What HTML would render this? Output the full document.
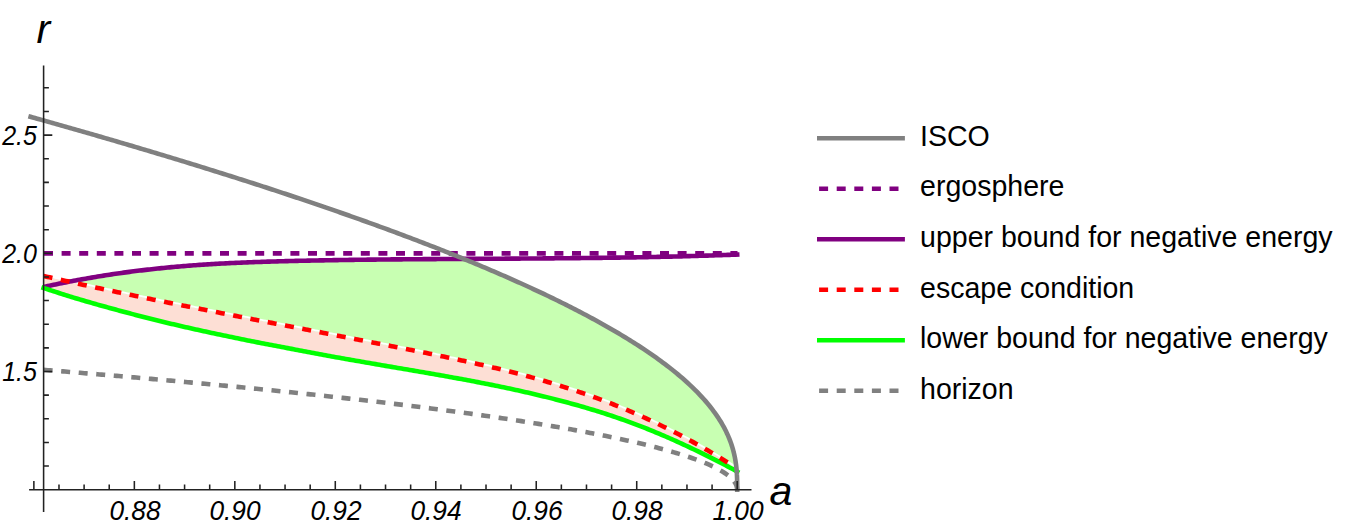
<!DOCTYPE html>
<html><head><meta charset="utf-8"><title>plot</title>
<style>
html,body{margin:0;padding:0;background:#fff;}
body{width:1345px;height:529px;position:relative;overflow:hidden;font-family:"Liberation Sans",sans-serif;color:#000;}
.t{position:absolute;white-space:nowrap;line-height:1;}
</style></head><body>
<svg width="1345" height="529" viewBox="0 0 1345 529" style="position:absolute;left:0;top:0">
<rect width="1345" height="529" fill="#fff"/>
<path d="M43.60 275.98 L45.60 276.43 L47.60 276.89 L49.60 277.34 L51.60 277.79 L53.60 278.24 L55.60 278.69 L57.60 279.14 L59.60 279.59 L61.60 280.03 L63.60 280.48 L65.60 280.93 L67.60 281.37 L69.60 281.81 L71.60 282.26 L73.60 282.70 L75.60 283.14 L77.60 283.58 L79.60 284.02 L81.60 284.46 L83.60 284.89 L85.60 285.33 L87.60 285.77 L89.60 286.20 L91.60 286.63 L93.60 287.07 L95.60 287.50 L97.60 287.93 L99.60 288.36 L101.60 288.79 L103.60 289.22 L105.60 289.65 L107.60 290.07 L109.60 290.50 L111.60 290.93 L113.60 291.35 L115.60 291.77 L117.60 292.19 L119.60 292.62 L121.60 293.04 L123.60 293.45 L125.60 293.87 L127.60 294.29 L129.60 294.70 L131.60 295.12 L133.60 295.53 L135.60 295.95 L137.60 296.36 L139.60 296.77 L141.60 297.18 L143.60 297.59 L145.60 298.00 L147.60 298.41 L149.60 298.82 L151.60 299.23 L153.60 299.64 L155.60 300.04 L157.60 300.45 L159.60 300.85 L161.60 301.26 L163.60 301.66 L165.60 302.06 L167.60 302.47 L169.60 302.87 L171.60 303.27 L173.60 303.67 L175.60 304.07 L177.60 304.47 L179.60 304.87 L181.60 305.27 L183.60 305.66 L185.60 306.06 L187.60 306.46 L189.60 306.85 L191.60 307.25 L193.60 307.64 L195.60 308.04 L197.60 308.43 L199.60 308.83 L201.60 309.22 L203.60 309.61 L205.60 310.00 L207.60 310.40 L209.60 310.79 L211.60 311.18 L213.60 311.57 L215.60 311.96 L217.60 312.36 L219.60 312.75 L221.60 313.14 L223.60 313.53 L225.60 313.92 L227.60 314.32 L229.60 314.71 L231.60 315.10 L233.60 315.49 L235.60 315.88 L237.60 316.27 L239.60 316.67 L241.60 317.06 L243.60 317.45 L245.60 317.84 L247.60 318.23 L249.60 318.62 L251.60 319.01 L253.60 319.40 L255.60 319.78 L257.60 320.17 L259.60 320.56 L261.60 320.95 L263.60 321.33 L265.60 321.72 L267.60 322.11 L269.60 322.49 L271.60 322.88 L273.60 323.26 L275.60 323.65 L277.60 324.03 L279.60 324.42 L281.60 324.80 L283.60 325.19 L285.60 325.57 L287.60 325.95 L289.60 326.34 L291.60 326.72 L293.60 327.10 L295.60 327.48 L297.60 327.87 L299.60 328.25 L301.60 328.64 L303.60 329.02 L305.60 329.41 L307.60 329.79 L309.60 330.18 L311.60 330.56 L313.60 330.95 L315.60 331.34 L317.60 331.73 L319.60 332.12 L321.60 332.51 L323.60 332.90 L325.60 333.29 L327.60 333.68 L329.60 334.07 L331.60 334.46 L333.60 334.86 L335.60 335.25 L337.60 335.64 L339.60 336.03 L341.60 336.42 L343.60 336.81 L345.60 337.20 L347.60 337.59 L349.60 337.98 L351.60 338.37 L353.60 338.76 L355.60 339.15 L357.60 339.54 L359.60 339.93 L361.60 340.32 L363.60 340.71 L365.60 341.10 L367.60 341.49 L369.60 341.88 L371.60 342.27 L373.60 342.66 L375.60 343.05 L377.60 343.44 L379.60 343.83 L381.60 344.22 L383.60 344.60 L385.60 344.99 L387.60 345.38 L389.60 345.77 L391.60 346.16 L393.60 346.55 L395.60 346.94 L397.60 347.33 L399.60 347.71 L401.60 348.10 L403.60 348.49 L405.60 348.89 L407.60 349.28 L409.60 349.67 L411.60 350.06 L413.60 350.46 L415.60 350.85 L417.60 351.25 L419.60 351.65 L421.60 352.05 L423.60 352.45 L425.60 352.85 L427.60 353.26 L429.60 353.67 L431.60 354.07 L433.60 354.49 L435.60 354.90 L437.60 355.31 L439.60 355.73 L441.60 356.14 L443.60 356.56 L445.60 356.99 L447.60 357.41 L449.60 357.83 L451.60 358.26 L453.60 358.69 L455.60 359.12 L457.60 359.55 L459.60 359.98 L461.60 360.41 L463.60 360.85 L465.60 361.29 L467.60 361.72 L469.60 362.16 L471.60 362.61 L473.60 363.05 L475.60 363.50 L477.60 363.94 L479.60 364.39 L481.60 364.85 L483.60 365.31 L485.60 365.76 L487.60 366.23 L489.60 366.69 L491.60 367.16 L493.60 367.64 L495.60 368.11 L497.60 368.59 L499.60 369.07 L501.60 369.56 L503.60 370.05 L505.60 370.55 L507.60 371.05 L509.60 371.55 L511.60 372.05 L513.60 372.56 L515.60 373.08 L517.60 373.60 L519.60 374.12 L521.60 374.65 L523.60 375.18 L525.60 375.71 L527.60 376.26 L529.60 376.80 L531.60 377.35 L533.60 377.90 L535.60 378.46 L537.60 379.03 L539.60 379.60 L541.60 380.17 L543.60 380.75 L545.60 381.33 L547.60 381.92 L549.60 382.51 L551.60 383.11 L553.60 383.72 L555.60 384.33 L557.60 384.94 L559.60 385.56 L561.60 386.19 L563.60 386.82 L565.60 387.45 L567.60 388.10 L569.60 388.74 L571.60 389.40 L573.60 390.06 L575.60 390.72 L577.60 391.39 L579.60 392.07 L581.60 392.75 L583.60 393.44 L585.60 394.13 L587.60 394.83 L589.60 395.53 L591.60 396.25 L593.60 396.96 L595.60 397.69 L597.60 398.42 L599.60 399.16 L601.60 399.90 L603.60 400.65 L605.60 401.41 L607.60 402.17 L609.60 402.94 L611.60 403.72 L613.60 404.51 L615.60 405.30 L617.60 406.10 L619.60 406.91 L621.60 407.73 L623.60 408.55 L625.60 409.38 L627.60 410.22 L629.60 411.07 L631.60 411.93 L633.60 412.79 L635.60 413.66 L637.60 414.54 L639.60 415.43 L641.60 416.32 L643.60 417.23 L645.60 418.14 L647.60 419.05 L649.60 419.98 L651.60 420.91 L653.60 421.86 L655.60 422.81 L657.60 423.76 L659.60 424.73 L661.60 425.70 L663.60 426.69 L665.60 427.67 L667.60 428.67 L669.60 429.68 L671.60 430.69 L673.60 431.71 L675.60 432.74 L677.60 433.78 L679.60 434.82 L681.60 435.88 L683.60 436.94 L685.60 438.01 L687.60 439.08 L689.60 440.17 L691.60 441.26 L693.60 442.37 L695.60 443.48 L697.60 444.60 L699.60 445.73 L701.60 446.87 L703.60 448.01 L705.60 449.17 L707.60 450.34 L709.60 451.52 L711.60 452.70 L713.60 453.90 L715.60 455.10 L717.60 456.32 L719.60 457.55 L721.60 458.79 L723.60 460.03 L725.60 461.29 L727.60 462.56 L729.60 463.84 L731.60 465.13 L733.60 466.43 L735.60 467.75 L737.20 468.81 L737.20 471.55 L735.60 470.67 L733.60 469.59 L731.60 468.51 L729.60 467.44 L727.60 466.38 L725.60 465.32 L723.60 464.27 L721.60 463.22 L719.60 462.19 L717.60 461.15 L715.60 460.13 L713.60 459.11 L711.60 458.09 L709.60 457.09 L707.60 456.09 L705.60 455.09 L703.60 454.10 L701.60 453.12 L699.60 452.15 L697.60 451.18 L695.60 450.21 L693.60 449.26 L691.60 448.31 L689.60 447.36 L687.60 446.42 L685.60 445.49 L683.60 444.57 L681.60 443.65 L679.60 442.73 L677.60 441.82 L675.60 440.92 L673.60 440.02 L671.60 439.13 L669.60 438.25 L667.60 437.37 L665.60 436.50 L663.60 435.64 L661.60 434.78 L659.60 433.93 L657.60 433.09 L655.60 432.26 L653.60 431.43 L651.60 430.61 L649.60 429.80 L647.60 429.00 L645.60 428.20 L643.60 427.41 L641.60 426.63 L639.60 425.85 L637.60 425.08 L635.60 424.32 L633.60 423.57 L631.60 422.82 L629.60 422.09 L627.60 421.36 L625.60 420.63 L623.60 419.92 L621.60 419.21 L619.60 418.51 L617.60 417.81 L615.60 417.13 L613.60 416.45 L611.60 415.78 L609.60 415.12 L607.60 414.46 L605.60 413.81 L603.60 413.16 L601.60 412.53 L599.60 411.89 L597.60 411.27 L595.60 410.65 L593.60 410.04 L591.60 409.43 L589.60 408.83 L587.60 408.23 L585.60 407.64 L583.60 407.06 L581.60 406.48 L579.60 405.90 L577.60 405.33 L575.60 404.77 L573.60 404.21 L571.60 403.66 L569.60 403.11 L567.60 402.56 L565.60 402.02 L563.60 401.49 L561.60 400.96 L559.60 400.44 L557.60 399.92 L555.60 399.40 L553.60 398.89 L551.60 398.38 L549.60 397.88 L547.60 397.38 L545.60 396.89 L543.60 396.40 L541.60 395.91 L539.60 395.43 L537.60 394.95 L535.60 394.47 L533.60 394.00 L531.60 393.53 L529.60 393.07 L527.60 392.61 L525.60 392.15 L523.60 391.70 L521.60 391.25 L519.60 390.80 L517.60 390.36 L515.60 389.92 L513.60 389.48 L511.60 389.05 L509.60 388.62 L507.60 388.19 L505.60 387.77 L503.60 387.35 L501.60 386.93 L499.60 386.51 L497.60 386.10 L495.60 385.69 L493.60 385.29 L491.60 384.88 L489.60 384.48 L487.60 384.08 L485.60 383.69 L483.60 383.29 L481.60 382.90 L479.60 382.51 L477.60 382.13 L475.60 381.74 L473.60 381.36 L471.60 380.98 L469.60 380.60 L467.60 380.23 L465.60 379.85 L463.60 379.48 L461.60 379.11 L459.60 378.74 L457.60 378.37 L455.60 378.01 L453.60 377.64 L451.60 377.28 L449.60 376.92 L447.60 376.56 L445.60 376.20 L443.60 375.84 L441.60 375.49 L439.60 375.13 L437.60 374.78 L435.60 374.43 L433.60 374.08 L431.60 373.73 L429.60 373.38 L427.60 373.03 L425.60 372.68 L423.60 372.34 L421.60 371.99 L419.60 371.65 L417.60 371.31 L415.60 370.96 L413.60 370.62 L411.60 370.28 L409.60 369.94 L407.60 369.60 L405.60 369.26 L403.60 368.92 L401.60 368.58 L399.60 368.24 L397.60 367.90 L395.60 367.56 L393.60 367.22 L391.60 366.88 L389.60 366.54 L387.60 366.20 L385.60 365.86 L383.60 365.51 L381.60 365.17 L379.60 364.82 L377.60 364.48 L375.60 364.13 L373.60 363.79 L371.60 363.44 L369.60 363.09 L367.60 362.74 L365.60 362.40 L363.60 362.05 L361.60 361.70 L359.60 361.35 L357.60 361.01 L355.60 360.66 L353.60 360.31 L351.60 359.96 L349.60 359.61 L347.60 359.26 L345.60 358.91 L343.60 358.56 L341.60 358.20 L339.60 357.85 L337.60 357.49 L335.60 357.14 L333.60 356.78 L331.60 356.41 L329.60 356.05 L327.60 355.69 L325.60 355.32 L323.60 354.95 L321.60 354.58 L319.60 354.20 L317.60 353.83 L315.60 353.45 L313.60 353.07 L311.60 352.69 L309.60 352.31 L307.60 351.93 L305.60 351.55 L303.60 351.17 L301.60 350.79 L299.60 350.40 L297.60 350.02 L295.60 349.64 L293.60 349.26 L291.60 348.88 L289.60 348.50 L287.60 348.12 L285.60 347.74 L283.60 347.36 L281.60 346.98 L279.60 346.60 L277.60 346.22 L275.60 345.84 L273.60 345.46 L271.60 345.08 L269.60 344.70 L267.60 344.32 L265.60 343.93 L263.60 343.54 L261.60 343.16 L259.60 342.77 L257.60 342.38 L255.60 341.98 L253.60 341.59 L251.60 341.19 L249.60 340.79 L247.60 340.39 L245.60 339.99 L243.60 339.59 L241.60 339.18 L239.60 338.77 L237.60 338.36 L235.60 337.95 L233.60 337.54 L231.60 337.12 L229.60 336.71 L227.60 336.29 L225.60 335.87 L223.60 335.45 L221.60 335.03 L219.60 334.61 L217.60 334.18 L215.60 333.76 L213.60 333.33 L211.60 332.90 L209.60 332.48 L207.60 332.04 L205.60 331.61 L203.60 331.18 L201.60 330.74 L199.60 330.30 L197.60 329.86 L195.60 329.41 L193.60 328.97 L191.60 328.52 L189.60 328.07 L187.60 327.61 L185.60 327.16 L183.60 326.70 L181.60 326.24 L179.60 325.77 L177.60 325.31 L175.60 324.84 L173.60 324.36 L171.60 323.89 L169.60 323.41 L167.60 322.93 L165.60 322.45 L163.60 321.97 L161.60 321.48 L159.60 320.99 L157.60 320.50 L155.60 320.00 L153.60 319.50 L151.60 319.00 L149.60 318.50 L147.60 318.00 L145.60 317.49 L143.60 316.98 L141.60 316.47 L139.60 315.95 L137.60 315.43 L135.60 314.91 L133.60 314.39 L131.60 313.87 L129.60 313.34 L127.60 312.81 L125.60 312.28 L123.60 311.74 L121.60 311.21 L119.60 310.67 L117.60 310.13 L115.60 309.59 L113.60 309.04 L111.60 308.50 L109.60 307.95 L107.60 307.40 L105.60 306.84 L103.60 306.29 L101.60 305.73 L99.60 305.17 L97.60 304.61 L95.60 304.04 L93.60 303.47 L91.60 302.90 L89.60 302.33 L87.60 301.75 L85.60 301.17 L83.60 300.58 L81.60 300.00 L79.60 299.40 L77.60 298.81 L75.60 298.20 L73.60 297.60 L71.60 296.98 L69.60 296.37 L67.60 295.74 L65.60 295.12 L63.60 294.48 L61.60 293.85 L59.60 293.21 L57.60 292.56 L55.60 291.91 L53.60 291.26 L51.60 290.61 L49.60 289.95 L47.60 289.30 L45.60 288.64 L43.60 287.99Z" fill="#fddfd5"/>
<path d="M69.60 281.61 L71.60 281.23 L73.60 280.86 L75.60 280.48 L77.60 280.11 L79.60 279.74 L81.60 279.38 L83.60 279.02 L85.60 278.66 L87.60 278.31 L89.60 277.96 L91.60 277.61 L93.60 277.27 L95.60 276.93 L97.60 276.60 L99.60 276.27 L101.60 275.94 L103.60 275.62 L105.60 275.31 L107.60 274.99 L109.60 274.69 L111.60 274.38 L113.60 274.08 L115.60 273.79 L117.60 273.50 L119.60 273.21 L121.60 272.93 L123.60 272.65 L125.60 272.38 L127.60 272.11 L129.60 271.85 L131.60 271.59 L133.60 271.33 L135.60 271.08 L137.60 270.83 L139.60 270.59 L141.60 270.35 L143.60 270.11 L145.60 269.88 L147.60 269.65 L149.60 269.42 L151.60 269.20 L153.60 268.98 L155.60 268.77 L157.60 268.55 L159.60 268.35 L161.60 268.14 L163.60 267.94 L165.60 267.74 L167.60 267.54 L169.60 267.35 L171.60 267.16 L173.60 266.98 L175.60 266.79 L177.60 266.62 L179.60 266.44 L181.60 266.27 L183.60 266.10 L185.60 265.94 L187.60 265.78 L189.60 265.62 L191.60 265.47 L193.60 265.32 L195.60 265.17 L197.60 265.03 L199.60 264.89 L201.60 264.75 L203.60 264.62 L205.60 264.49 L207.60 264.36 L209.60 264.24 L211.60 264.12 L213.60 264.00 L215.60 263.88 L217.60 263.77 L219.60 263.66 L221.60 263.55 L223.60 263.45 L225.60 263.35 L227.60 263.25 L229.60 263.15 L231.60 263.05 L233.60 262.96 L235.60 262.87 L237.60 262.78 L239.60 262.70 L241.60 262.61 L243.60 262.53 L245.60 262.45 L247.60 262.37 L249.60 262.29 L251.60 262.22 L253.60 262.14 L255.60 262.07 L257.60 262.00 L259.60 261.93 L261.60 261.86 L263.60 261.80 L265.60 261.73 L267.60 261.67 L269.60 261.61 L271.60 261.55 L273.60 261.49 L275.60 261.43 L277.60 261.37 L279.60 261.32 L281.60 261.26 L283.60 261.21 L285.60 261.16 L287.60 261.11 L289.60 261.06 L291.60 261.01 L293.60 260.96 L295.60 260.91 L297.60 260.86 L299.60 260.82 L301.60 260.77 L303.60 260.73 L305.60 260.69 L307.60 260.64 L309.60 260.60 L311.60 260.56 L313.60 260.52 L315.60 260.48 L317.60 260.44 L319.60 260.40 L321.60 260.37 L323.60 260.33 L325.60 260.29 L327.60 260.25 L329.60 260.22 L331.60 260.18 L333.60 260.15 L335.60 260.12 L337.60 260.08 L339.60 260.05 L341.60 260.02 L343.60 259.99 L345.60 259.96 L347.60 259.93 L349.60 259.90 L351.60 259.87 L353.60 259.85 L355.60 259.82 L357.60 259.79 L359.60 259.77 L361.60 259.74 L363.60 259.72 L365.60 259.70 L367.60 259.67 L369.60 259.65 L371.60 259.63 L373.60 259.60 L375.60 259.58 L377.60 259.56 L379.60 259.54 L381.60 259.52 L383.60 259.50 L385.60 259.48 L387.60 259.46 L389.60 259.44 L391.60 259.42 L393.60 259.40 L395.60 259.39 L397.60 259.37 L399.60 259.35 L401.60 259.33 L403.60 259.32 L405.60 259.30 L407.60 259.28 L409.60 259.27 L411.60 259.25 L413.60 259.24 L415.60 259.22 L417.60 259.21 L419.60 259.19 L421.60 259.18 L423.60 259.16 L425.60 259.15 L427.60 259.13 L429.60 259.12 L431.60 259.11 L433.60 259.09 L435.60 259.08 L437.60 259.07 L439.60 259.05 L441.60 259.04 L443.60 259.03 L445.60 259.02 L447.60 259.00 L449.60 258.99 L451.60 258.98 L453.60 258.97 L455.60 258.96 L457.60 258.94 L459.60 258.93 L461.60 258.92 L463.60 258.91 L465.60 259.65 L467.60 260.47 L469.60 261.29 L471.60 262.12 L473.60 262.94 L475.60 263.77 L477.60 264.61 L479.60 265.44 L481.60 266.28 L483.60 267.12 L485.60 267.96 L487.60 268.81 L489.60 269.66 L491.60 270.51 L493.60 271.37 L495.60 272.23 L497.60 273.09 L499.60 273.96 L501.60 274.82 L503.60 275.69 L505.60 276.57 L507.60 277.45 L509.60 278.33 L511.60 279.21 L513.60 280.10 L515.60 280.99 L517.60 281.89 L519.60 282.79 L521.60 283.69 L523.60 284.60 L525.60 285.51 L527.60 286.42 L529.60 287.34 L531.60 288.26 L533.60 289.18 L535.60 290.11 L537.60 291.05 L539.60 291.98 L541.60 292.93 L543.60 293.87 L545.60 294.82 L547.60 295.78 L549.60 296.74 L551.60 297.70 L553.60 298.67 L555.60 299.64 L557.60 300.62 L559.60 301.61 L561.60 302.60 L563.60 303.59 L565.60 304.59 L567.60 305.59 L569.60 306.60 L571.60 307.62 L573.60 308.64 L575.60 309.66 L577.60 310.69 L579.60 311.73 L581.60 312.78 L583.60 313.83 L585.60 314.88 L587.60 315.95 L589.60 317.02 L591.60 318.09 L593.60 319.17 L595.60 320.26 L597.60 321.36 L599.60 322.47 L601.60 323.58 L603.60 324.70 L605.60 325.82 L607.60 326.96 L609.60 328.10 L611.60 329.26 L613.60 330.42 L615.60 331.59 L617.60 332.76 L619.60 333.95 L621.60 335.15 L623.60 336.36 L625.60 337.58 L627.60 338.80 L629.60 340.04 L631.60 341.29 L633.60 342.55 L635.60 343.83 L637.60 345.11 L639.60 346.41 L641.60 347.72 L643.60 349.04 L645.60 350.38 L647.60 351.73 L649.60 353.10 L651.60 354.48 L653.60 355.87 L655.60 357.29 L657.60 358.72 L659.60 360.17 L661.60 361.63 L663.60 363.12 L665.60 364.63 L667.60 366.15 L669.60 367.70 L671.60 369.28 L673.60 370.87 L675.60 372.49 L677.60 374.14 L679.60 375.82 L681.60 377.53 L683.60 379.26 L685.60 381.03 L687.60 382.84 L689.60 384.69 L691.60 386.57 L693.60 388.50 L695.60 390.47 L697.60 392.49 L699.60 394.57 L701.60 396.71 L703.60 398.91 L705.60 401.18 L707.60 403.53 L709.60 405.96 L711.60 408.49 L713.60 411.13 L715.60 413.89 L717.60 416.79 L719.60 419.87 L721.60 423.14 L723.60 426.65 L725.60 430.47 L727.60 434.67 L729.60 439.41 L731.60 444.94 L733.60 451.80 L735.60 461.60 L735.60 467.75 L733.60 466.43 L731.60 465.13 L729.60 463.84 L727.60 462.56 L725.60 461.29 L723.60 460.03 L721.60 458.79 L719.60 457.55 L717.60 456.32 L715.60 455.10 L713.60 453.90 L711.60 452.70 L709.60 451.52 L707.60 450.34 L705.60 449.17 L703.60 448.01 L701.60 446.87 L699.60 445.73 L697.60 444.60 L695.60 443.48 L693.60 442.37 L691.60 441.26 L689.60 440.17 L687.60 439.08 L685.60 438.01 L683.60 436.94 L681.60 435.88 L679.60 434.82 L677.60 433.78 L675.60 432.74 L673.60 431.71 L671.60 430.69 L669.60 429.68 L667.60 428.67 L665.60 427.67 L663.60 426.69 L661.60 425.70 L659.60 424.73 L657.60 423.76 L655.60 422.81 L653.60 421.86 L651.60 420.91 L649.60 419.98 L647.60 419.05 L645.60 418.14 L643.60 417.23 L641.60 416.32 L639.60 415.43 L637.60 414.54 L635.60 413.66 L633.60 412.79 L631.60 411.93 L629.60 411.07 L627.60 410.22 L625.60 409.38 L623.60 408.55 L621.60 407.73 L619.60 406.91 L617.60 406.10 L615.60 405.30 L613.60 404.51 L611.60 403.72 L609.60 402.94 L607.60 402.17 L605.60 401.41 L603.60 400.65 L601.60 399.90 L599.60 399.16 L597.60 398.42 L595.60 397.69 L593.60 396.96 L591.60 396.25 L589.60 395.53 L587.60 394.83 L585.60 394.13 L583.60 393.44 L581.60 392.75 L579.60 392.07 L577.60 391.39 L575.60 390.72 L573.60 390.06 L571.60 389.40 L569.60 388.74 L567.60 388.10 L565.60 387.45 L563.60 386.82 L561.60 386.19 L559.60 385.56 L557.60 384.94 L555.60 384.33 L553.60 383.72 L551.60 383.11 L549.60 382.51 L547.60 381.92 L545.60 381.33 L543.60 380.75 L541.60 380.17 L539.60 379.60 L537.60 379.03 L535.60 378.46 L533.60 377.90 L531.60 377.35 L529.60 376.80 L527.60 376.26 L525.60 375.71 L523.60 375.18 L521.60 374.65 L519.60 374.12 L517.60 373.60 L515.60 373.08 L513.60 372.56 L511.60 372.05 L509.60 371.55 L507.60 371.05 L505.60 370.55 L503.60 370.05 L501.60 369.56 L499.60 369.07 L497.60 368.59 L495.60 368.11 L493.60 367.64 L491.60 367.16 L489.60 366.69 L487.60 366.23 L485.60 365.76 L483.60 365.31 L481.60 364.85 L479.60 364.39 L477.60 363.94 L475.60 363.50 L473.60 363.05 L471.60 362.61 L469.60 362.16 L467.60 361.72 L465.60 361.29 L463.60 360.85 L461.60 360.41 L459.60 359.98 L457.60 359.55 L455.60 359.12 L453.60 358.69 L451.60 358.26 L449.60 357.83 L447.60 357.41 L445.60 356.99 L443.60 356.56 L441.60 356.14 L439.60 355.73 L437.60 355.31 L435.60 354.90 L433.60 354.49 L431.60 354.07 L429.60 353.67 L427.60 353.26 L425.60 352.85 L423.60 352.45 L421.60 352.05 L419.60 351.65 L417.60 351.25 L415.60 350.85 L413.60 350.46 L411.60 350.06 L409.60 349.67 L407.60 349.28 L405.60 348.89 L403.60 348.49 L401.60 348.10 L399.60 347.71 L397.60 347.33 L395.60 346.94 L393.60 346.55 L391.60 346.16 L389.60 345.77 L387.60 345.38 L385.60 344.99 L383.60 344.60 L381.60 344.22 L379.60 343.83 L377.60 343.44 L375.60 343.05 L373.60 342.66 L371.60 342.27 L369.60 341.88 L367.60 341.49 L365.60 341.10 L363.60 340.71 L361.60 340.32 L359.60 339.93 L357.60 339.54 L355.60 339.15 L353.60 338.76 L351.60 338.37 L349.60 337.98 L347.60 337.59 L345.60 337.20 L343.60 336.81 L341.60 336.42 L339.60 336.03 L337.60 335.64 L335.60 335.25 L333.60 334.86 L331.60 334.46 L329.60 334.07 L327.60 333.68 L325.60 333.29 L323.60 332.90 L321.60 332.51 L319.60 332.12 L317.60 331.73 L315.60 331.34 L313.60 330.95 L311.60 330.56 L309.60 330.18 L307.60 329.79 L305.60 329.41 L303.60 329.02 L301.60 328.64 L299.60 328.25 L297.60 327.87 L295.60 327.48 L293.60 327.10 L291.60 326.72 L289.60 326.34 L287.60 325.95 L285.60 325.57 L283.60 325.19 L281.60 324.80 L279.60 324.42 L277.60 324.03 L275.60 323.65 L273.60 323.26 L271.60 322.88 L269.60 322.49 L267.60 322.11 L265.60 321.72 L263.60 321.33 L261.60 320.95 L259.60 320.56 L257.60 320.17 L255.60 319.78 L253.60 319.40 L251.60 319.01 L249.60 318.62 L247.60 318.23 L245.60 317.84 L243.60 317.45 L241.60 317.06 L239.60 316.67 L237.60 316.27 L235.60 315.88 L233.60 315.49 L231.60 315.10 L229.60 314.71 L227.60 314.32 L225.60 313.92 L223.60 313.53 L221.60 313.14 L219.60 312.75 L217.60 312.36 L215.60 311.96 L213.60 311.57 L211.60 311.18 L209.60 310.79 L207.60 310.40 L205.60 310.00 L203.60 309.61 L201.60 309.22 L199.60 308.83 L197.60 308.43 L195.60 308.04 L193.60 307.64 L191.60 307.25 L189.60 306.85 L187.60 306.46 L185.60 306.06 L183.60 305.66 L181.60 305.27 L179.60 304.87 L177.60 304.47 L175.60 304.07 L173.60 303.67 L171.60 303.27 L169.60 302.87 L167.60 302.47 L165.60 302.06 L163.60 301.66 L161.60 301.26 L159.60 300.85 L157.60 300.45 L155.60 300.04 L153.60 299.64 L151.60 299.23 L149.60 298.82 L147.60 298.41 L145.60 298.00 L143.60 297.59 L141.60 297.18 L139.60 296.77 L137.60 296.36 L135.60 295.95 L133.60 295.53 L131.60 295.12 L129.60 294.70 L127.60 294.29 L125.60 293.87 L123.60 293.45 L121.60 293.04 L119.60 292.62 L117.60 292.19 L115.60 291.77 L113.60 291.35 L111.60 290.93 L109.60 290.50 L107.60 290.07 L105.60 289.65 L103.60 289.22 L101.60 288.79 L99.60 288.36 L97.60 287.93 L95.60 287.50 L93.60 287.07 L91.60 286.63 L89.60 286.20 L87.60 285.77 L85.60 285.33 L83.60 284.89 L81.60 284.46 L79.60 284.02 L77.60 283.58 L75.60 283.14 L73.60 282.70 L71.60 282.26 L69.60 281.81Z" fill="#c8ffb2"/>
<path d="M43.60 274.98 L45.60 275.43 L47.60 275.89 L49.60 276.34 L51.60 276.79 L53.60 277.24 L55.60 277.69 L57.60 278.14 L59.60 278.59 L61.60 279.03 L63.60 279.48 L65.60 279.93 L67.60 280.37 L69.60 280.81 L71.60 281.26 L73.60 281.70 L75.60 282.14 L77.60 282.58 L79.60 283.02 L81.60 283.46 L83.60 283.89 L85.60 284.33 L87.60 284.77 L89.60 285.20 L91.60 285.63 L93.60 286.07 L95.60 286.50 L97.60 286.93 L99.60 287.36 L101.60 287.79 L103.60 288.22 L105.60 288.65 L107.60 289.07 L109.60 289.50 L111.60 289.93 L113.60 290.35 L115.60 290.77 L117.60 291.19 L119.60 291.62 L121.60 292.04 L123.60 292.45 L125.60 292.87 L127.60 293.29 L129.60 293.70 L131.60 294.12 L133.60 294.53 L135.60 294.95 L137.60 295.36 L139.60 295.77 L141.60 296.18 L143.60 296.59 L145.60 297.00 L147.60 297.41 L149.60 297.82 L151.60 298.23 L153.60 298.64 L155.60 299.04 L157.60 299.45 L159.60 299.85 L161.60 300.26 L163.60 300.66 L165.60 301.06 L167.60 301.47 L169.60 301.87 L171.60 302.27 L173.60 302.67 L175.60 303.07 L177.60 303.47 L179.60 303.87 L181.60 304.27 L183.60 304.66 L185.60 305.06 L187.60 305.46 L189.60 305.85 L191.60 306.25 L193.60 306.64 L195.60 307.04 L197.60 307.43 L199.60 307.83 L201.60 308.22 L203.60 308.61 L205.60 309.00 L207.60 309.40 L209.60 309.79 L211.60 310.18 L213.60 310.57 L215.60 310.96 L217.60 311.36 L219.60 311.75 L221.60 312.14 L223.60 312.53 L225.60 312.92 L227.60 313.32 L229.60 313.71 L231.60 314.10 L233.60 314.49 L235.60 314.88 L237.60 315.27 L239.60 315.67 L241.60 316.06 L243.60 316.45 L245.60 316.84 L247.60 317.23 L249.60 317.62 L251.60 318.01 L253.60 318.40 L255.60 318.78 L257.60 319.17 L259.60 319.56 L261.60 319.95 L263.60 320.33 L265.60 320.72 L267.60 321.11 L269.60 321.49 L271.60 321.88 L273.60 322.26 L275.60 322.65 L277.60 323.03 L279.60 323.42 L281.60 323.80 L283.60 324.19 L285.60 324.57 L287.60 324.95 L289.60 325.34 L291.60 325.72 L293.60 326.10 L295.60 326.48 L297.60 326.87 L299.60 327.25 L301.60 327.64 L303.60 328.02 L305.60 328.41 L307.60 328.79 L309.60 329.18 L311.60 329.56 L313.60 329.95 L315.60 330.34 L317.60 330.73 L319.60 331.12 L321.60 331.51 L323.60 331.90 L325.60 332.29 L327.60 332.68 L329.60 333.07 L331.60 333.46 L333.60 333.86 L335.60 334.25 L337.60 334.64 L339.60 335.03 L341.60 335.42 L343.60 335.81 L345.60 336.20 L347.60 336.59 L349.60 336.98 L351.60 337.37 L353.60 337.76 L355.60 338.15 L357.60 338.54 L359.60 338.93 L361.60 339.32 L363.60 339.71 L365.60 340.10 L367.60 340.49 L369.60 340.88 L371.60 341.27 L373.60 341.66 L375.60 342.05 L377.60 342.44 L379.60 342.83 L381.60 343.22 L383.60 343.60 L385.60 343.99 L387.60 344.38 L389.60 344.77 L391.60 345.16 L393.60 345.55 L395.60 345.94 L397.60 346.33 L399.60 346.71 L401.60 347.10 L403.60 347.49 L405.60 347.89 L407.60 348.28 L409.60 348.67 L411.60 349.06 L413.60 349.46 L415.60 349.85 L417.60 350.25 L419.60 350.65 L421.60 351.05 L423.60 351.45 L425.60 351.85 L427.60 352.26 L429.60 352.67 L431.60 353.07 L433.60 353.49 L435.60 353.90 L437.60 354.31 L439.60 354.73 L441.60 355.14 L443.60 355.56 L445.60 355.99 L447.60 356.41 L449.60 356.83 L451.60 357.26 L453.60 357.69 L455.60 358.12 L457.60 358.55 L459.60 358.98 L461.60 359.41 L463.60 359.85 L465.60 360.29 L467.60 360.72 L469.60 361.16 L471.60 361.61 L473.60 362.05 L475.60 362.50 L477.60 362.94 L479.60 363.39 L481.60 363.85 L483.60 364.31 L485.60 364.76 L487.60 365.23 L489.60 365.69 L491.60 366.16 L493.60 366.64 L495.60 367.11 L497.60 367.59 L499.60 368.07 L501.60 368.56 L503.60 369.05 L505.60 369.55 L507.60 370.05 L509.60 370.55 L511.60 371.05 L513.60 371.56 L515.60 372.08 L517.60 372.60 L519.60 373.12 L521.60 373.65 L523.60 374.18 L525.60 374.71 L527.60 375.26 L529.60 375.80 L531.60 376.35 L533.60 376.90 L535.60 377.46 L537.60 378.03 L539.60 378.60 L541.60 379.17 L543.60 379.75 L545.60 380.33 L547.60 380.92 L549.60 381.51 L551.60 382.11 L553.60 382.72 L555.60 383.33 L557.60 383.94 L559.60 384.56 L561.60 385.19 L563.60 385.82 L565.60 386.45 L567.60 387.10 L569.60 387.74 L571.60 388.40 L573.60 389.06 L575.60 389.72 L577.60 390.39 L579.60 391.07 L581.60 391.75 L583.60 392.44 L585.60 393.13 L587.60 393.83 L589.60 394.53 L591.60 395.25 L593.60 395.96 L595.60 396.69 L597.60 397.42 L599.60 398.16 L601.60 398.90 L603.60 399.65 L605.60 400.41 L607.60 401.17 L609.60 401.94 L611.60 402.72 L613.60 403.51 L615.60 404.30 L617.60 405.10 L619.60 405.91 L621.60 406.73 L623.60 407.55 L625.60 408.38 L627.60 409.22 L629.60 410.07 L631.60 410.93 L633.60 411.79 L635.60 412.66 L637.60 413.54 L639.60 414.43 L641.60 415.32 L643.60 416.23 L645.60 417.14 L647.60 418.05 L649.60 418.98 L651.60 419.91 L653.60 420.86 L655.60 421.81 L657.60 422.76 L659.60 423.73 L661.60 424.70 L663.60 425.69 L665.60 426.67 L667.60 427.67 L669.60 428.68 L671.60 429.69 L673.60 430.71 L675.60 431.74 L677.60 432.78 L679.60 433.82 L681.60 434.88 L683.60 435.94 L685.60 437.01 L687.60 438.08 L689.60 439.17 L691.60 440.26 L693.60 441.37 L695.60 442.48 L697.60 443.60 L699.60 444.73 L701.60 445.87 L703.60 447.01 L705.60 448.17 L707.60 449.34 L709.60 450.52 L711.60 451.70 L713.60 452.90 L715.60 454.10 L717.60 455.32 L719.60 456.55 L721.60 457.79 L723.60 459.03 L725.60 460.29 L727.60 461.56 L729.60 462.84 L731.60 464.13 L733.60 465.43 L735.60 466.75 L737.20 467.81" fill="none" stroke="#fff" stroke-width="1.8"/>
<path d="M46.00 286.42 L47.60 286.08 L49.60 285.65 L51.60 285.22 L53.60 284.80 L55.60 284.39 L57.60 283.98 L59.60 283.58 L61.60 283.17 L63.60 282.78 L65.60 282.39 L67.60 282.00 L69.60 281.61 L71.60 281.23 L73.60 280.86 L75.60 280.48 L77.60 280.11 L79.60 279.74 L81.60 279.38 L83.60 279.02 L85.60 278.66 L87.60 278.31 L89.60 277.96 L91.60 277.61 L93.60 277.27 L95.60 276.93 L97.60 276.60 L99.60 276.27 L101.60 275.94 L103.60 275.62 L105.60 275.31 L107.60 274.99 L109.60 274.69 L111.60 274.38 L113.60 274.08 L115.60 273.79 L117.60 273.50 L119.60 273.21 L121.60 272.93 L123.60 272.65 L125.60 272.38 L127.60 272.11 L129.60 271.85 L131.60 271.59 L133.60 271.33 L135.60 271.08 L137.60 270.83 L139.60 270.59 L141.60 270.35 L143.60 270.11 L145.60 269.88 L147.60 269.65 L149.60 269.42 L151.60 269.20 L153.60 268.98 L155.60 268.77 L157.60 268.55 L159.60 268.35 L161.60 268.14 L163.60 267.94 L165.60 267.74 L167.60 267.54 L169.60 267.35 L171.60 267.16 L173.60 266.98 L175.60 266.79 L177.60 266.62 L179.60 266.44 L181.60 266.27 L183.60 266.10 L185.60 265.94 L187.60 265.78 L189.60 265.62 L191.60 265.47 L193.60 265.32 L195.60 265.17 L197.60 265.03 L199.60 264.89 L201.60 264.75 L203.60 264.62 L205.60 264.49 L207.60 264.36 L209.60 264.24 L211.60 264.12 L213.60 264.00 L215.60 263.88 L217.60 263.77 L219.60 263.66 L221.60 263.55 L223.60 263.45 L225.60 263.35 L227.60 263.25 L229.60 263.15 L231.60 263.05 L233.60 262.96 L235.60 262.87 L237.60 262.78 L239.60 262.70 L241.60 262.61 L243.60 262.53 L245.60 262.45 L247.60 262.37 L249.60 262.29 L251.60 262.22 L253.60 262.14 L255.60 262.07 L257.60 262.00 L259.60 261.93 L261.60 261.86 L263.60 261.80 L265.60 261.73 L267.60 261.67 L269.60 261.61 L271.60 261.55 L273.60 261.49 L275.60 261.43 L277.60 261.37 L279.60 261.32 L281.60 261.26 L283.60 261.21 L285.60 261.16 L287.60 261.11 L289.60 261.06 L291.60 261.01 L293.60 260.96 L295.60 260.91 L297.60 260.86 L299.60 260.82 L301.60 260.77 L303.60 260.73 L305.60 260.69 L307.60 260.64 L309.60 260.60 L311.60 260.56 L313.60 260.52 L315.60 260.48 L317.60 260.44 L319.60 260.40 L321.60 260.37 L323.60 260.33 L325.60 260.29 L327.60 260.25 L329.60 260.22 L331.60 260.18 L333.60 260.15 L335.60 260.12 L337.60 260.08 L339.60 260.05 L341.60 260.02 L343.60 259.99 L345.60 259.96 L347.60 259.93 L349.60 259.90 L351.60 259.87 L353.60 259.85 L355.60 259.82 L357.60 259.79 L359.60 259.77 L361.60 259.74 L363.60 259.72 L365.60 259.70 L367.60 259.67 L369.60 259.65 L371.60 259.63 L373.60 259.60 L375.60 259.58 L377.60 259.56 L379.60 259.54 L381.60 259.52 L383.60 259.50 L385.60 259.48 L387.60 259.46 L389.60 259.44 L391.60 259.42 L393.60 259.40 L395.60 259.39 L397.60 259.37 L399.60 259.35 L401.60 259.33 L403.60 259.32 L405.60 259.30 L407.60 259.28 L409.60 259.27 L411.60 259.25 L413.60 259.24 L415.60 259.22 L417.60 259.21 L419.60 259.19 L421.60 259.18 L423.60 259.16 L425.60 259.15 L427.60 259.13 L429.60 259.12 L431.60 259.11 L433.60 259.09 L435.60 259.08 L437.60 259.07 L439.60 259.05 L441.60 259.04 L443.60 259.03 L445.60 259.02 L447.60 259.00 L449.60 258.99 L451.60 258.98 L453.60 258.97 L455.60 258.96 L457.60 258.94 L459.60 258.93 L461.60 258.92 L463.60 258.91 L465.60 258.90 L467.60 258.89 L469.60 258.87 L471.60 258.86 L473.60 258.85 L475.60 258.84 L477.60 258.83 L479.60 258.82 L481.60 258.81 L483.60 258.79 L485.60 258.78 L487.60 258.77 L489.60 258.76 L491.60 258.75 L493.60 258.74 L495.60 258.73 L497.60 258.71 L499.60 258.70 L501.60 258.69 L503.60 258.68 L505.60 258.67 L507.60 258.65 L509.60 258.64 L511.60 258.63 L513.60 258.62 L515.60 258.61 L517.60 258.59 L519.60 258.58 L521.60 258.57 L523.60 258.55 L525.60 258.54 L527.60 258.53 L529.60 258.51 L531.60 258.50 L533.60 258.48 L535.60 258.47 L537.60 258.46 L539.60 258.44 L541.60 258.43 L543.60 258.41 L545.60 258.40 L547.60 258.38 L549.60 258.36 L551.60 258.35 L553.60 258.33 L555.60 258.31 L557.60 258.30 L559.60 258.28 L561.60 258.26 L563.60 258.24 L565.60 258.23 L567.60 258.21 L569.60 258.19 L571.60 258.17 L573.60 258.15 L575.60 258.13 L577.60 258.11 L579.60 258.09 L581.60 258.07 L583.60 258.05 L585.60 258.02 L587.60 258.00 L589.60 257.98 L591.60 257.96 L593.60 257.93 L595.60 257.91 L597.60 257.88 L599.60 257.86 L601.60 257.83 L603.60 257.81 L605.60 257.78 L607.60 257.75 L609.60 257.73 L611.60 257.70 L613.60 257.67 L615.60 257.64 L617.60 257.61 L619.60 257.58 L621.60 257.55 L623.60 257.52 L625.60 257.49 L627.60 257.46 L629.60 257.43 L631.60 257.39 L633.60 257.36 L635.60 257.33 L637.60 257.29 L639.60 257.25 L641.60 257.22 L643.60 257.18 L645.60 257.14 L647.60 257.11 L649.60 257.07 L651.60 257.03 L653.60 256.99 L655.60 256.94 L657.60 256.90 L659.60 256.86 L661.60 256.81 L663.60 256.77 L665.60 256.72 L667.60 256.68 L669.60 256.63 L671.60 256.58 L673.60 256.53 L675.60 256.48 L677.60 256.43 L679.60 256.38 L681.60 256.33 L683.60 256.27 L685.60 256.22 L687.60 256.17 L689.60 256.11 L691.60 256.05 L693.60 256.00 L695.60 255.94 L697.60 255.88 L699.60 255.82 L701.60 255.76 L703.60 255.70 L705.60 255.64 L707.60 255.58 L709.60 255.51 L711.60 255.45 L713.60 255.38 L715.60 255.32 L717.60 255.25 L719.60 255.18 L721.60 255.11 L723.60 255.04 L725.60 254.97 L727.60 254.90 L729.60 254.83 L731.60 254.76 L733.60 254.68 L735.60 254.61 L737.20 254.55" fill="none" stroke="#800080" stroke-width="4.6" stroke-linecap="square" stroke-linejoin="round"/>
<path d="M43.60 287.99 L45.60 288.64 L47.60 289.30 L49.60 289.95 L51.60 290.61 L53.60 291.26 L55.60 291.91 L57.60 292.56 L59.60 293.21 L61.60 293.85 L63.60 294.48 L65.60 295.12 L67.60 295.74 L69.60 296.37 L71.60 296.98 L73.60 297.60 L75.60 298.20 L77.60 298.81 L79.60 299.40 L81.60 300.00 L83.60 300.58 L85.60 301.17 L87.60 301.75 L89.60 302.33 L91.60 302.90 L93.60 303.47 L95.60 304.04 L97.60 304.61 L99.60 305.17 L101.60 305.73 L103.60 306.29 L105.60 306.84 L107.60 307.40 L109.60 307.95 L111.60 308.50 L113.60 309.04 L115.60 309.59 L117.60 310.13 L119.60 310.67 L121.60 311.21 L123.60 311.74 L125.60 312.28 L127.60 312.81 L129.60 313.34 L131.60 313.87 L133.60 314.39 L135.60 314.91 L137.60 315.43 L139.60 315.95 L141.60 316.47 L143.60 316.98 L145.60 317.49 L147.60 318.00 L149.60 318.50 L151.60 319.00 L153.60 319.50 L155.60 320.00 L157.60 320.50 L159.60 320.99 L161.60 321.48 L163.60 321.97 L165.60 322.45 L167.60 322.93 L169.60 323.41 L171.60 323.89 L173.60 324.36 L175.60 324.84 L177.60 325.31 L179.60 325.77 L181.60 326.24 L183.60 326.70 L185.60 327.16 L187.60 327.61 L189.60 328.07 L191.60 328.52 L193.60 328.97 L195.60 329.41 L197.60 329.86 L199.60 330.30 L201.60 330.74 L203.60 331.18 L205.60 331.61 L207.60 332.04 L209.60 332.48 L211.60 332.90 L213.60 333.33 L215.60 333.76 L217.60 334.18 L219.60 334.61 L221.60 335.03 L223.60 335.45 L225.60 335.87 L227.60 336.29 L229.60 336.71 L231.60 337.12 L233.60 337.54 L235.60 337.95 L237.60 338.36 L239.60 338.77 L241.60 339.18 L243.60 339.59 L245.60 339.99 L247.60 340.39 L249.60 340.79 L251.60 341.19 L253.60 341.59 L255.60 341.98 L257.60 342.38 L259.60 342.77 L261.60 343.16 L263.60 343.54 L265.60 343.93 L267.60 344.32 L269.60 344.70 L271.60 345.08 L273.60 345.46 L275.60 345.84 L277.60 346.22 L279.60 346.60 L281.60 346.98 L283.60 347.36 L285.60 347.74 L287.60 348.12 L289.60 348.50 L291.60 348.88 L293.60 349.26 L295.60 349.64 L297.60 350.02 L299.60 350.40 L301.60 350.79 L303.60 351.17 L305.60 351.55 L307.60 351.93 L309.60 352.31 L311.60 352.69 L313.60 353.07 L315.60 353.45 L317.60 353.83 L319.60 354.20 L321.60 354.58 L323.60 354.95 L325.60 355.32 L327.60 355.69 L329.60 356.05 L331.60 356.41 L333.60 356.78 L335.60 357.14 L337.60 357.49 L339.60 357.85 L341.60 358.20 L343.60 358.56 L345.60 358.91 L347.60 359.26 L349.60 359.61 L351.60 359.96 L353.60 360.31 L355.60 360.66 L357.60 361.01 L359.60 361.35 L361.60 361.70 L363.60 362.05 L365.60 362.40 L367.60 362.74 L369.60 363.09 L371.60 363.44 L373.60 363.79 L375.60 364.13 L377.60 364.48 L379.60 364.82 L381.60 365.17 L383.60 365.51 L385.60 365.86 L387.60 366.20 L389.60 366.54 L391.60 366.88 L393.60 367.22 L395.60 367.56 L397.60 367.90 L399.60 368.24 L401.60 368.58 L403.60 368.92 L405.60 369.26 L407.60 369.60 L409.60 369.94 L411.60 370.28 L413.60 370.62 L415.60 370.96 L417.60 371.31 L419.60 371.65 L421.60 371.99 L423.60 372.34 L425.60 372.68 L427.60 373.03 L429.60 373.38 L431.60 373.73 L433.60 374.08 L435.60 374.43 L437.60 374.78 L439.60 375.13 L441.60 375.49 L443.60 375.84 L445.60 376.20 L447.60 376.56 L449.60 376.92 L451.60 377.28 L453.60 377.64 L455.60 378.01 L457.60 378.37 L459.60 378.74 L461.60 379.11 L463.60 379.48 L465.60 379.85 L467.60 380.23 L469.60 380.60 L471.60 380.98 L473.60 381.36 L475.60 381.74 L477.60 382.13 L479.60 382.51 L481.60 382.90 L483.60 383.29 L485.60 383.69 L487.60 384.08 L489.60 384.48 L491.60 384.88 L493.60 385.29 L495.60 385.69 L497.60 386.10 L499.60 386.51 L501.60 386.93 L503.60 387.35 L505.60 387.77 L507.60 388.19 L509.60 388.62 L511.60 389.05 L513.60 389.48 L515.60 389.92 L517.60 390.36 L519.60 390.80 L521.60 391.25 L523.60 391.70 L525.60 392.15 L527.60 392.61 L529.60 393.07 L531.60 393.53 L533.60 394.00 L535.60 394.47 L537.60 394.95 L539.60 395.43 L541.60 395.91 L543.60 396.40 L545.60 396.89 L547.60 397.38 L549.60 397.88 L551.60 398.38 L553.60 398.89 L555.60 399.40 L557.60 399.92 L559.60 400.44 L561.60 400.96 L563.60 401.49 L565.60 402.02 L567.60 402.56 L569.60 403.11 L571.60 403.66 L573.60 404.21 L575.60 404.77 L577.60 405.33 L579.60 405.90 L581.60 406.48 L583.60 407.06 L585.60 407.64 L587.60 408.23 L589.60 408.83 L591.60 409.43 L593.60 410.04 L595.60 410.65 L597.60 411.27 L599.60 411.89 L601.60 412.53 L603.60 413.16 L605.60 413.81 L607.60 414.46 L609.60 415.12 L611.60 415.78 L613.60 416.45 L615.60 417.13 L617.60 417.81 L619.60 418.51 L621.60 419.21 L623.60 419.92 L625.60 420.63 L627.60 421.36 L629.60 422.09 L631.60 422.82 L633.60 423.57 L635.60 424.32 L637.60 425.08 L639.60 425.85 L641.60 426.63 L643.60 427.41 L645.60 428.20 L647.60 429.00 L649.60 429.80 L651.60 430.61 L653.60 431.43 L655.60 432.26 L657.60 433.09 L659.60 433.93 L661.60 434.78 L663.60 435.64 L665.60 436.50 L667.60 437.37 L669.60 438.25 L671.60 439.13 L673.60 440.02 L675.60 440.92 L677.60 441.82 L679.60 442.73 L681.60 443.65 L683.60 444.57 L685.60 445.49 L687.60 446.42 L689.60 447.36 L691.60 448.31 L693.60 449.26 L695.60 450.21 L697.60 451.18 L699.60 452.15 L701.60 453.12 L703.60 454.10 L705.60 455.09 L707.60 456.09 L709.60 457.09 L711.60 458.09 L713.60 459.11 L715.60 460.13 L717.60 461.15 L719.60 462.19 L721.60 463.22 L723.60 464.27 L725.60 465.32 L727.60 466.38 L729.60 467.44 L731.60 468.51 L733.60 469.59 L735.60 470.67 L737.20 471.55" fill="none" stroke="#00ff00" stroke-width="4.6" stroke-linecap="square" stroke-linejoin="round"/>
<path d="M44 253.35 L737.5 253.35" fill="none" stroke="#800080" stroke-width="4.6" stroke-linecap="butt" stroke-linejoin="round" stroke-dasharray="9.0 8.6" stroke-dashoffset="0"/>
<path d="M43.60 275.98 L45.60 276.43 L47.60 276.89 L49.60 277.34 L51.60 277.79 L53.60 278.24 L55.60 278.69 L57.60 279.14 L59.60 279.59 L61.60 280.03 L63.60 280.48 L65.60 280.93 L67.60 281.37 L69.60 281.81 L71.60 282.26 L73.60 282.70 L75.60 283.14 L77.60 283.58 L79.60 284.02 L81.60 284.46 L83.60 284.89 L85.60 285.33 L87.60 285.77 L89.60 286.20 L91.60 286.63 L93.60 287.07 L95.60 287.50 L97.60 287.93 L99.60 288.36 L101.60 288.79 L103.60 289.22 L105.60 289.65 L107.60 290.07 L109.60 290.50 L111.60 290.93 L113.60 291.35 L115.60 291.77 L117.60 292.19 L119.60 292.62 L121.60 293.04 L123.60 293.45 L125.60 293.87 L127.60 294.29 L129.60 294.70 L131.60 295.12 L133.60 295.53 L135.60 295.95 L137.60 296.36 L139.60 296.77 L141.60 297.18 L143.60 297.59 L145.60 298.00 L147.60 298.41 L149.60 298.82 L151.60 299.23 L153.60 299.64 L155.60 300.04 L157.60 300.45 L159.60 300.85 L161.60 301.26 L163.60 301.66 L165.60 302.06 L167.60 302.47 L169.60 302.87 L171.60 303.27 L173.60 303.67 L175.60 304.07 L177.60 304.47 L179.60 304.87 L181.60 305.27 L183.60 305.66 L185.60 306.06 L187.60 306.46 L189.60 306.85 L191.60 307.25 L193.60 307.64 L195.60 308.04 L197.60 308.43 L199.60 308.83 L201.60 309.22 L203.60 309.61 L205.60 310.00 L207.60 310.40 L209.60 310.79 L211.60 311.18 L213.60 311.57 L215.60 311.96 L217.60 312.36 L219.60 312.75 L221.60 313.14 L223.60 313.53 L225.60 313.92 L227.60 314.32 L229.60 314.71 L231.60 315.10 L233.60 315.49 L235.60 315.88 L237.60 316.27 L239.60 316.67 L241.60 317.06 L243.60 317.45 L245.60 317.84 L247.60 318.23 L249.60 318.62 L251.60 319.01 L253.60 319.40 L255.60 319.78 L257.60 320.17 L259.60 320.56 L261.60 320.95 L263.60 321.33 L265.60 321.72 L267.60 322.11 L269.60 322.49 L271.60 322.88 L273.60 323.26 L275.60 323.65 L277.60 324.03 L279.60 324.42 L281.60 324.80 L283.60 325.19 L285.60 325.57 L287.60 325.95 L289.60 326.34 L291.60 326.72 L293.60 327.10 L295.60 327.48 L297.60 327.87 L299.60 328.25 L301.60 328.64 L303.60 329.02 L305.60 329.41 L307.60 329.79 L309.60 330.18 L311.60 330.56 L313.60 330.95 L315.60 331.34 L317.60 331.73 L319.60 332.12 L321.60 332.51 L323.60 332.90 L325.60 333.29 L327.60 333.68 L329.60 334.07 L331.60 334.46 L333.60 334.86 L335.60 335.25 L337.60 335.64 L339.60 336.03 L341.60 336.42 L343.60 336.81 L345.60 337.20 L347.60 337.59 L349.60 337.98 L351.60 338.37 L353.60 338.76 L355.60 339.15 L357.60 339.54 L359.60 339.93 L361.60 340.32 L363.60 340.71 L365.60 341.10 L367.60 341.49 L369.60 341.88 L371.60 342.27 L373.60 342.66 L375.60 343.05 L377.60 343.44 L379.60 343.83 L381.60 344.22 L383.60 344.60 L385.60 344.99 L387.60 345.38 L389.60 345.77 L391.60 346.16 L393.60 346.55 L395.60 346.94 L397.60 347.33 L399.60 347.71 L401.60 348.10 L403.60 348.49 L405.60 348.89 L407.60 349.28 L409.60 349.67 L411.60 350.06 L413.60 350.46 L415.60 350.85 L417.60 351.25 L419.60 351.65 L421.60 352.05 L423.60 352.45 L425.60 352.85 L427.60 353.26 L429.60 353.67 L431.60 354.07 L433.60 354.49 L435.60 354.90 L437.60 355.31 L439.60 355.73 L441.60 356.14 L443.60 356.56 L445.60 356.99 L447.60 357.41 L449.60 357.83 L451.60 358.26 L453.60 358.69 L455.60 359.12 L457.60 359.55 L459.60 359.98 L461.60 360.41 L463.60 360.85 L465.60 361.29 L467.60 361.72 L469.60 362.16 L471.60 362.61 L473.60 363.05 L475.60 363.50 L477.60 363.94 L479.60 364.39 L481.60 364.85 L483.60 365.31 L485.60 365.76 L487.60 366.23 L489.60 366.69 L491.60 367.16 L493.60 367.64 L495.60 368.11 L497.60 368.59 L499.60 369.07 L501.60 369.56 L503.60 370.05 L505.60 370.55 L507.60 371.05 L509.60 371.55 L511.60 372.05 L513.60 372.56 L515.60 373.08 L517.60 373.60 L519.60 374.12 L521.60 374.65 L523.60 375.18 L525.60 375.71 L527.60 376.26 L529.60 376.80 L531.60 377.35 L533.60 377.90 L535.60 378.46 L537.60 379.03 L539.60 379.60 L541.60 380.17 L543.60 380.75 L545.60 381.33 L547.60 381.92 L549.60 382.51 L551.60 383.11 L553.60 383.72 L555.60 384.33 L557.60 384.94 L559.60 385.56 L561.60 386.19 L563.60 386.82 L565.60 387.45 L567.60 388.10 L569.60 388.74 L571.60 389.40 L573.60 390.06 L575.60 390.72 L577.60 391.39 L579.60 392.07 L581.60 392.75 L583.60 393.44 L585.60 394.13 L587.60 394.83 L589.60 395.53 L591.60 396.25 L593.60 396.96 L595.60 397.69 L597.60 398.42 L599.60 399.16 L601.60 399.90 L603.60 400.65 L605.60 401.41 L607.60 402.17 L609.60 402.94 L611.60 403.72 L613.60 404.51 L615.60 405.30 L617.60 406.10 L619.60 406.91 L621.60 407.73 L623.60 408.55 L625.60 409.38 L627.60 410.22 L629.60 411.07 L631.60 411.93 L633.60 412.79 L635.60 413.66 L637.60 414.54 L639.60 415.43 L641.60 416.32 L643.60 417.23 L645.60 418.14 L647.60 419.05 L649.60 419.98 L651.60 420.91 L653.60 421.86 L655.60 422.81 L657.60 423.76 L659.60 424.73 L661.60 425.70 L663.60 426.69 L665.60 427.67 L667.60 428.67 L669.60 429.68 L671.60 430.69 L673.60 431.71 L675.60 432.74 L677.60 433.78 L679.60 434.82 L681.60 435.88 L683.60 436.94 L685.60 438.01 L687.60 439.08 L689.60 440.17 L691.60 441.26 L693.60 442.37 L695.60 443.48 L697.60 444.60 L699.60 445.73 L701.60 446.87 L703.60 448.01 L705.60 449.17 L707.60 450.34 L709.60 451.52 L711.60 452.70 L713.60 453.90 L715.60 455.10 L717.60 456.32 L719.60 457.55 L721.60 458.79 L723.60 460.03 L725.60 461.29 L727.60 462.56 L729.60 463.84 L731.60 465.13 L733.60 466.43" fill="none" stroke="#ff0000" stroke-width="4.6" stroke-linecap="butt" stroke-linejoin="round" stroke-dasharray="9.0 8.6" stroke-dashoffset="0"/>
<path d="M43.60 369.84 L45.75 370.01 L47.90 370.19 L50.06 370.36 L52.21 370.53 L54.36 370.71 L56.51 370.88 L58.66 371.05 L60.81 371.23 L62.97 371.40 L65.12 371.58 L67.27 371.76 L69.42 371.93 L71.57 372.11 L73.72 372.28 L75.88 372.46 L78.03 372.64 L80.18 372.82 L82.33 373.00 L84.48 373.17 L86.63 373.35 L88.79 373.53 L90.94 373.71 L93.09 373.89 L95.24 374.07 L97.39 374.25 L99.54 374.43 L101.70 374.62 L103.85 374.80 L106.00 374.98 L108.15 375.16 L110.30 375.34 L112.45 375.53 L114.61 375.71 L116.76 375.90 L118.91 376.08 L121.06 376.27 L123.21 376.45 L125.36 376.64 L127.52 376.82 L129.67 377.01 L131.82 377.20 L133.97 377.38 L136.12 377.57 L138.27 377.76 L140.43 377.95 L142.58 378.14 L144.73 378.33 L146.88 378.52 L149.03 378.71 L151.18 378.90 L153.34 379.09 L155.49 379.28 L157.64 379.47 L159.79 379.66 L161.94 379.86 L164.10 380.05 L166.25 380.24 L168.40 380.44 L170.55 380.63 L172.70 380.83 L174.85 381.02 L177.01 381.22 L179.16 381.41 L181.31 381.61 L183.46 381.81 L185.61 382.01 L187.76 382.20 L189.92 382.40 L192.07 382.60 L194.22 382.80 L196.37 383.00 L198.52 383.20 L200.67 383.40 L202.83 383.60 L204.98 383.81 L207.13 384.01 L209.28 384.21 L211.43 384.41 L213.58 384.62 L215.74 384.82 L217.89 385.03 L220.04 385.23 L222.19 385.44 L224.34 385.64 L226.49 385.85 L228.65 386.06 L230.80 386.27 L232.95 386.47 L235.10 386.68 L237.25 386.89 L239.40 387.10 L241.56 387.31 L243.71 387.52 L245.86 387.74 L248.01 387.95 L250.16 388.16 L252.31 388.37 L254.47 388.59 L256.62 388.80 L258.77 389.02 L260.92 389.23 L263.07 389.45 L265.22 389.66 L267.38 389.88 L269.53 390.10 L271.68 390.32 L273.83 390.54 L275.98 390.75 L278.14 390.97 L280.29 391.20 L282.44 391.42 L284.59 391.64 L286.74 391.86 L288.89 392.08 L291.05 392.31 L293.20 392.53 L295.35 392.76 L297.50 392.98 L299.65 393.21 L301.80 393.43 L303.96 393.66 L306.11 393.89 L308.26 394.12 L310.41 394.35 L312.56 394.58 L314.71 394.81 L316.87 395.04 L319.02 395.27 L321.17 395.51 L323.32 395.74 L325.47 395.97 L327.62 396.21 L329.78 396.44 L331.93 396.68 L334.08 396.92 L336.23 397.15 L338.38 397.39 L340.53 397.63 L342.69 397.87 L344.84 398.11 L346.99 398.35 L349.14 398.60 L351.29 398.84 L353.44 399.08 L355.60 399.33 L357.75 399.57 L359.90 399.82 L362.05 400.06 L364.20 400.31 L366.35 400.56 L368.51 400.81 L370.66 401.06 L372.81 401.31 L374.96 401.56 L377.11 401.81 L379.26 402.07 L381.42 402.32 L383.57 402.58 L385.72 402.83 L387.87 403.09 L390.02 403.35 L392.17 403.60 L394.33 403.86 L396.48 404.12 L398.63 404.38 L400.78 404.65 L402.93 404.91 L405.09 405.17 L407.24 405.44 L409.39 405.70 L411.54 405.97 L413.69 406.24 L415.84 406.51 L418.00 406.78 L420.15 407.05 L422.30 407.32 L424.45 407.59 L426.60 407.87 L428.75 408.14 L430.91 408.42 L433.06 408.70 L435.21 408.97 L437.36 409.25 L439.51 409.53 L441.66 409.81 L443.82 410.10 L445.97 410.38 L448.12 410.67 L450.27 410.95 L452.42 411.24 L454.57 411.53 L456.73 411.82 L458.88 412.11 L461.03 412.40 L463.18 412.69 L465.33 412.99 L467.48 413.28 L469.64 413.58 L471.79 413.88 L473.94 414.18 L476.09 414.48 L478.24 414.78 L480.39 415.09 L482.55 415.39 L484.70 415.70 L486.85 416.00 L489.00 416.31 L491.15 416.62 L493.30 416.94 L495.46 417.25 L497.61 417.57 L499.76 417.88 L501.91 418.20 L504.06 418.52 L506.21 418.84 L508.37 419.17 L510.52 419.49 L512.67 419.82 L514.82 420.14 L516.97 420.47 L519.13 420.81 L521.28 421.14 L523.43 421.47 L525.58 421.81 L527.73 422.15 L529.88 422.49 L532.04 422.83 L534.19 423.18 L536.34 423.52 L538.49 423.87 L540.64 424.22 L542.79 424.57 L544.95 424.93 L547.10 425.28 L549.25 425.64 L551.40 426.00 L553.55 426.37 L555.70 426.73 L557.86 427.10 L560.01 427.47 L562.16 427.84 L564.31 428.22 L566.46 428.59 L568.61 428.97 L570.77 429.36 L572.92 429.74 L575.07 430.13 L577.22 430.52 L579.37 430.91 L581.52 431.31 L583.68 431.71 L585.83 432.11 L587.98 432.51 L590.13 432.92 L592.28 433.33 L594.43 433.74 L596.59 434.16 L598.74 434.58 L600.89 435.01 L603.04 435.43 L605.19 435.86 L607.34 436.30 L609.50 436.74 L611.65 437.18 L613.80 437.63 L615.95 438.08 L618.10 438.53 L620.25 438.99 L622.41 439.45 L624.56 439.92 L626.71 440.39 L628.86 440.87 L631.01 441.35 L633.17 441.84 L635.32 442.33 L637.47 442.83 L639.62 443.33 L641.77 443.84 L643.92 444.36 L646.08 444.88 L648.23 445.41 L650.38 445.94 L652.53 446.48 L654.68 447.03 L656.83 447.59 L658.99 448.15 L661.14 448.72 L663.29 449.30 L665.44 449.89 L667.59 450.48 L669.74 451.09 L671.90 451.71 L674.05 452.34 L676.20 452.97 L678.35 453.62 L680.50 454.29 L682.65 454.96 L684.81 455.65 L686.96 456.35 L686.96 456.35 L689.78 457.30 L692.45 458.22 L694.96 459.11 L697.34 459.98 L699.58 460.82 L701.69 461.64 L703.69 462.44 L705.57 463.22 L707.35 463.97 L709.03 464.70 L710.61 465.41 L712.10 466.10 L713.51 466.77 L714.85 467.43 L716.10 468.06 L717.29 468.68 L718.41 469.27 L719.46 469.86 L720.46 470.42 L721.40 470.97 L722.29 471.50 L723.13 472.02 L723.92 472.52 L724.66 473.01 L725.37 473.49 L726.03 473.95 L726.66 474.40 L727.25 474.83 L727.81 475.26 L728.34 475.67 L728.84 476.07 L729.31 476.46 L729.75 476.83 L730.17 477.20 L730.56 477.56 L730.94 477.90 L731.29 478.24 L731.62 478.57 L731.93 478.88 L732.23 479.19 L732.51 479.49 L732.77 479.78 L733.02 480.06 L733.25 480.34 L733.48 480.61 L733.69 480.87 L733.88 481.12 L734.07 481.36 L734.24 481.60 L734.41 481.83 L734.57 482.05 L734.71 482.27 L734.85 482.48 L734.99 482.69 L735.11 482.89 L735.23 483.08 L735.34 483.27 L735.44 483.46 L735.54 483.63 L735.63 483.81 L735.72 483.97 L735.80 484.14 L735.88 484.30 L735.96 484.45 L736.03 484.60 L736.09 484.75 L736.15 484.89 L736.21 485.02 L736.27 485.16 L736.32 485.29 L736.37 485.41 L736.42 485.53 L736.46 485.65 L736.50 485.77 L736.54 485.88 L736.58 485.99 L736.61 486.10 L736.64 486.20 L736.67 486.30 L736.70 486.40 L736.73 486.49 L736.76 486.58 L736.78 486.67 L736.81 486.76 L736.83 486.84 L736.85 486.92 L736.87 487.00 L736.89 487.08 L736.90 487.15 L736.92 487.23 L736.94 487.30 L736.95 487.36 L736.96 487.43 L736.98 487.50 L736.99 487.56 L737.00 487.62 L737.01 487.68 L737.02 487.74 L737.03 487.79 L737.04 487.85 L737.05 487.90 L737.06 487.95 L737.07 488.00 L737.07 488.05 L737.08 488.10 L737.09 488.14 L737.09 488.19 L737.10 488.23 L737.10 488.27 L737.11 488.31 L737.11 488.35 L737.12 488.39 L737.12 488.43 L737.13 488.46 L737.13 488.50 L737.13 488.53 L737.14 488.57 L737.14 488.60 L737.14 488.63 L737.15 488.66 L737.15 488.69 L737.15 488.72 L737.15 488.75 L737.16 488.77 L737.16 488.80 L737.16 488.83 L737.16 488.85 L737.16 488.88 L737.17 488.90 L737.17 488.92 L737.17 488.94 L737.17 488.97 L737.17 488.99 L737.17 489.01 L737.17 489.03 L737.18 489.05 L737.18 489.06 L737.18 489.08 L737.18 489.10 L737.18 489.12 L737.18 489.13 L737.18 489.15 L737.18 489.17 L737.18 489.18 L737.18 489.20 L737.18 489.21 L737.18 489.22 L737.19 489.24 L737.19 489.25 L737.19 489.26 L737.19 489.28 L737.19 489.29 L737.19 489.30 L737.19 489.31 L737.19 489.32 L737.19 489.33 L737.19 489.34 L737.19 489.35 L737.19 489.36 L737.19 489.37 L737.19 489.38 L737.19 489.39 L737.19 489.40 L737.19 489.41 L737.19 489.42 L737.19 489.43 L737.19 489.43 L737.19 489.44 L737.19 489.45 L737.19 489.46 L737.19 489.46 L737.19 489.47 L737.19 489.48 L737.19 489.48 L737.19 489.49 L737.19 489.49 L737.19 489.50 L737.19 489.51 L737.19 489.51 L737.19 489.52 L737.19 489.52 L737.19 489.53 L737.19 489.53 L737.19 489.54 L737.19 489.54 L737.19 489.55 L737.19 489.55 L737.19 489.55 L737.19 489.56 L737.19 489.56 L737.19 489.57 L737.19 489.57 L737.19 489.57 L737.19 489.58 L737.19 489.58 L737.19 489.58 L737.19 489.59 L737.19 489.59 L737.19 489.59 L737.20 489.70" fill="none" stroke="#808080" stroke-width="4.6" stroke-linecap="butt" stroke-linejoin="round" stroke-dasharray="9.0 8.6" stroke-dashoffset="0"/>
<path d="M30.60 116.83 L32.80 117.44 L34.99 118.05 L37.19 118.67 L39.38 119.28 L41.58 119.90 L43.77 120.52 L45.97 121.13 L48.16 121.75 L50.36 122.37 L52.55 122.99 L54.75 123.61 L56.94 124.23 L59.14 124.85 L61.33 125.48 L63.53 126.10 L65.72 126.72 L67.92 127.35 L70.11 127.98 L72.31 128.60 L74.50 129.23 L76.70 129.86 L78.89 130.49 L81.09 131.12 L83.28 131.75 L85.48 132.38 L87.67 133.01 L89.87 133.64 L92.06 134.28 L94.26 134.91 L96.46 135.54 L98.65 136.18 L100.85 136.82 L103.04 137.46 L105.24 138.09 L107.43 138.73 L109.63 139.37 L111.82 140.01 L114.02 140.66 L116.21 141.30 L118.41 141.94 L120.60 142.59 L122.80 143.23 L124.99 143.88 L127.19 144.53 L129.38 145.17 L131.58 145.82 L133.77 146.47 L135.97 147.12 L138.16 147.77 L140.36 148.43 L142.55 149.08 L144.75 149.73 L146.94 150.39 L149.14 151.05 L151.33 151.70 L153.53 152.36 L155.73 153.02 L157.92 153.68 L160.12 154.34 L162.31 155.00 L164.51 155.66 L166.70 156.33 L168.90 156.99 L171.09 157.66 L173.29 158.33 L175.48 158.99 L177.68 159.66 L179.87 160.33 L182.07 161.00 L184.26 161.67 L186.46 162.35 L188.65 163.02 L190.85 163.70 L193.04 164.37 L195.24 165.05 L197.43 165.73 L199.63 166.41 L201.82 167.09 L204.02 167.77 L206.21 168.45 L208.41 169.13 L210.60 169.82 L212.80 170.50 L214.99 171.19 L217.19 171.88 L219.39 172.57 L221.58 173.26 L223.78 173.95 L225.97 174.64 L228.17 175.33 L230.36 176.03 L232.56 176.72 L234.75 177.42 L236.95 178.12 L239.14 178.82 L241.34 179.52 L243.53 180.22 L245.73 180.93 L247.92 181.63 L250.12 182.34 L252.31 183.04 L254.51 183.75 L256.70 184.46 L258.90 185.17 L261.09 185.88 L263.29 186.60 L265.48 187.31 L267.68 188.03 L269.87 188.74 L272.07 189.46 L274.26 190.18 L276.46 190.90 L278.65 191.63 L280.85 192.35 L283.05 193.08 L285.24 193.80 L287.44 194.53 L289.63 195.26 L291.83 195.99 L294.02 196.72 L296.22 197.46 L298.41 198.19 L300.61 198.93 L302.80 199.67 L305.00 200.41 L307.19 201.15 L309.39 201.89 L311.58 202.64 L313.78 203.38 L315.97 204.13 L318.17 204.88 L320.36 205.63 L322.56 206.38 L324.75 207.14 L326.95 207.89 L329.14 208.65 L331.34 209.41 L333.53 210.17 L335.73 210.93 L337.92 211.69 L340.12 212.46 L342.31 213.23 L344.51 213.99 L346.71 214.77 L348.90 215.54 L351.10 216.31 L353.29 217.09 L355.49 217.87 L357.68 218.65 L359.88 219.43 L362.07 220.21 L364.27 221.00 L366.46 221.78 L368.66 222.57 L370.85 223.36 L373.05 224.16 L375.24 224.95 L377.44 225.75 L379.63 226.55 L381.83 227.35 L384.02 228.15 L386.22 228.96 L388.41 229.76 L390.61 230.57 L392.80 231.38 L395.00 232.20 L397.19 233.01 L399.39 233.83 L401.58 234.65 L403.78 235.47 L405.98 236.30 L408.17 237.12 L410.37 237.95 L412.56 238.78 L414.76 239.62 L416.95 240.45 L419.15 241.29 L421.34 242.13 L423.54 242.98 L425.73 243.82 L427.93 244.67 L430.12 245.52 L432.32 246.37 L434.51 247.23 L436.71 248.09 L438.90 248.95 L441.10 249.82 L443.29 250.68 L445.49 251.55 L447.68 252.42 L449.88 253.30 L452.07 254.18 L454.27 255.06 L456.46 255.94 L458.66 256.83 L460.85 257.72 L463.05 258.61 L465.24 259.51 L467.44 260.40 L469.64 261.31 L471.83 262.21 L474.03 263.12 L476.22 264.03 L478.42 264.95 L480.61 265.86 L482.81 266.79 L485.00 267.71 L487.20 268.64 L489.39 269.57 L491.59 270.51 L493.78 271.45 L495.98 272.39 L498.17 273.34 L500.37 274.29 L502.56 275.24 L504.76 276.20 L506.95 277.16 L509.15 278.13 L511.34 279.10 L513.54 280.07 L515.73 281.05 L517.93 282.04 L520.12 283.02 L522.32 284.01 L524.51 285.01 L526.71 286.01 L528.90 287.02 L531.10 288.03 L533.30 289.04 L535.49 290.06 L537.69 291.09 L539.88 292.12 L542.08 293.15 L544.27 294.19 L546.47 295.24 L548.66 296.29 L550.86 297.34 L553.05 298.41 L555.25 299.47 L557.44 300.55 L559.64 301.63 L561.83 302.71 L564.03 303.80 L566.22 304.90 L568.42 306.00 L570.61 307.11 L572.81 308.23 L575.00 309.36 L577.20 310.49 L579.39 311.63 L581.59 312.77 L583.78 313.92 L585.98 315.08 L588.17 316.25 L590.37 317.43 L592.56 318.61 L594.76 319.81 L596.96 321.01 L599.15 322.22 L601.35 323.44 L603.54 324.66 L605.74 325.90 L607.93 327.15 L610.13 328.41 L612.32 329.67 L614.52 330.95 L616.71 332.24 L618.91 333.54 L621.10 334.85 L623.30 336.17 L625.49 337.51 L627.69 338.86 L629.88 340.22 L632.08 341.59 L634.27 342.98 L636.47 344.38 L638.66 345.80 L640.86 347.23 L643.05 348.68 L645.25 350.14 L647.44 351.62 L649.64 353.12 L651.83 354.64 L654.03 356.18 L656.23 357.73 L658.42 359.31 L660.62 360.91 L662.81 362.53 L665.01 364.18 L667.20 365.85 L669.40 367.54 L671.59 369.27 L673.79 371.02 L675.98 372.81 L678.18 374.62 L680.37 376.47 L682.57 378.36 L684.76 380.29 L686.96 382.26 L686.96 382.26 L689.78 384.85 L692.45 387.38 L694.96 389.84 L697.34 392.22 L699.58 394.55 L701.69 396.81 L703.69 399.00 L705.57 401.14 L707.35 403.23 L709.03 405.25 L710.61 407.22 L712.10 409.14 L713.51 411.01 L714.85 412.83 L716.10 414.60 L717.29 416.33 L718.41 418.01 L719.46 419.65 L720.46 421.25 L721.40 422.80 L722.29 424.32 L723.13 425.79 L723.92 427.23 L724.66 428.64 L725.37 430.00 L726.03 431.34 L726.66 432.64 L727.25 433.91 L727.81 435.14 L728.34 436.35 L728.84 437.53 L729.31 438.68 L729.75 439.80 L730.17 440.89 L730.56 441.96 L730.94 443.00 L731.29 444.01 L731.62 445.00 L731.93 445.97 L732.23 446.92 L732.51 447.84 L732.77 448.74 L733.02 449.62 L733.25 450.48 L733.48 451.32 L733.69 452.14 L733.88 452.94 L734.07 453.72 L734.24 454.48 L734.41 455.23 L734.57 455.96 L734.71 456.67 L734.85 457.37 L734.99 458.05 L735.11 458.71 L735.23 459.36 L735.34 460.00 L735.44 460.62 L735.54 461.23 L735.63 461.82 L735.72 462.40 L735.80 462.97 L735.88 463.52 L735.96 464.06 L736.03 464.59 L736.09 465.11 L736.15 465.62 L736.21 466.11 L736.27 466.60 L736.32 467.07 L736.37 467.54 L736.42 467.99 L736.46 468.44 L736.50 468.87 L736.54 469.30 L736.58 469.71 L736.61 470.12 L736.64 470.52 L736.67 470.91 L736.70 471.29 L736.73 471.66 L736.76 472.03 L736.78 472.38 L736.81 472.73 L736.83 473.08 L736.85 473.41 L736.87 473.74 L736.89 474.06 L736.90 474.38 L736.92 474.68 L736.94 474.98 L736.95 475.28 L736.96 475.57 L736.98 475.85 L736.99 476.13 L737.00 476.40 L737.01 476.66 L737.02 476.92 L737.03 477.18 L737.04 477.43 L737.05 477.67 L737.06 477.91 L737.07 478.15 L737.07 478.38 L737.08 478.60 L737.09 478.82 L737.09 479.04 L737.10 479.25 L737.10 479.45 L737.11 479.66 L737.11 479.86 L737.12 480.05 L737.12 480.24 L737.13 480.43 L737.13 480.61 L737.13 480.79 L737.14 480.96 L737.14 481.14 L737.14 481.30 L737.15 481.47 L737.15 481.63 L737.15 481.79 L737.15 481.95 L737.16 482.10 L737.16 482.25 L737.16 482.39 L737.16 482.54 L737.16 482.68 L737.17 482.81 L737.17 482.95 L737.17 483.08 L737.17 483.21 L737.17 483.34 L737.17 483.46 L737.17 483.58 L737.18 483.70 L737.18 483.82 L737.18 483.93 L737.18 484.05 L737.18 484.16 L737.18 484.26 L737.18 484.37 L737.18 484.47 L737.18 484.57 L737.18 484.67 L737.18 484.77 L737.18 484.87 L737.19 484.96 L737.19 485.05 L737.19 485.14 L737.19 485.23 L737.19 485.32 L737.19 485.40 L737.19 485.49 L737.19 485.57 L737.19 485.65 L737.19 485.73 L737.19 485.80 L737.19 485.88 L737.19 485.95 L737.19 486.03 L737.19 486.10 L737.19 486.17 L737.19 486.24 L737.19 486.30 L737.19 486.37 L737.19 486.43 L737.19 486.50 L737.19 486.56 L737.19 486.62 L737.19 486.68 L737.19 486.74 L737.19 486.79 L737.19 486.85 L737.19 486.90 L737.19 486.96 L737.19 487.01 L737.19 487.06 L737.19 487.11 L737.19 487.16 L737.19 487.21 L737.19 487.26 L737.19 487.31 L737.19 487.35 L737.19 487.40 L737.19 487.44 L737.19 487.49 L737.19 487.53 L737.19 487.57 L737.19 487.61 L737.19 487.65 L737.19 487.69 L737.19 487.73 L737.19 487.77 L737.19 487.81 L737.19 487.84 L737.19 487.88 L737.19 487.91 L737.19 487.95 L737.20 489.70" fill="none" stroke="#808080" stroke-width="4.6" stroke-linecap="square" stroke-linejoin="round"/>
<path d="M29.1 489.7 H751.5 M43.6 65.4 V512 M33.87 489.7 v-8.7 M58.99 489.7 v-5.3 M84.11 489.7 v-5.3 M109.23 489.7 v-5.3 M134.35 489.7 v-8.7 M159.46 489.7 v-5.3 M184.58 489.7 v-5.3 M209.70 489.7 v-5.3 M234.82 489.7 v-8.7 M259.94 489.7 v-5.3 M285.06 489.7 v-5.3 M310.18 489.7 v-5.3 M335.29 489.7 v-8.7 M360.41 489.7 v-5.3 M385.53 489.7 v-5.3 M410.65 489.7 v-5.3 M435.77 489.7 v-8.7 M460.89 489.7 v-5.3 M486.01 489.7 v-5.3 M511.13 489.7 v-5.3 M536.24 489.7 v-8.7 M561.36 489.7 v-5.3 M586.48 489.7 v-5.3 M611.60 489.7 v-5.3 M636.72 489.7 v-8.7 M661.84 489.7 v-5.3 M686.96 489.7 v-5.3 M712.08 489.7 v-5.3 M737.20 489.7 v-8.7 M43.6 466.06 h5.3 M43.6 442.42 h5.3 M43.6 418.78 h5.3 M43.6 395.14 h5.3 M43.6 371.50 h8.7 M43.6 347.86 h5.3 M43.6 324.22 h5.3 M43.6 300.58 h5.3 M43.6 276.94 h5.3 M43.6 253.30 h8.7 M43.6 229.66 h5.3 M43.6 206.02 h5.3 M43.6 182.38 h5.3 M43.6 158.74 h5.3 M43.6 135.10 h8.7 M43.6 111.46 h5.3 M43.6 87.82 h5.3" fill="none" stroke="#222" stroke-width="1.55"/>
<path d="M819.3 138.3 H902.6" stroke="#808080" stroke-width="4.6" stroke-linecap="square"/>
<path d="M819.1 188.8 H904.8" stroke="#800080" stroke-width="4.6" stroke-dasharray="9.0 8.6"/>
<path d="M819.3 239.3 H902.6" stroke="#800080" stroke-width="4.6" stroke-linecap="square"/>
<path d="M819.1 289.8 H904.8" stroke="#ff0000" stroke-width="4.6" stroke-dasharray="9.0 8.6"/>
<path d="M819.3 340.3 H902.6" stroke="#00ff00" stroke-width="4.6" stroke-linecap="square"/>
<path d="M819.1 390.8 H904.8" stroke="#808080" stroke-width="4.6" stroke-dasharray="9.0 8.6"/>
</svg>
<div class="t" style="font-size:27.8px;top:497.34px;left:-65.35px;width:400px;text-align:center;font-style:italic;transform:scaleX(0.945);transform-origin:50% 0;">0.88</div>
<div class="t" style="font-size:27.8px;top:497.34px;left:35.12px;width:400px;text-align:center;font-style:italic;transform:scaleX(0.945);transform-origin:50% 0;">0.90</div>
<div class="t" style="font-size:27.8px;top:497.34px;left:135.60px;width:400px;text-align:center;font-style:italic;transform:scaleX(0.945);transform-origin:50% 0;">0.92</div>
<div class="t" style="font-size:27.8px;top:497.34px;left:236.07px;width:400px;text-align:center;font-style:italic;transform:scaleX(0.945);transform-origin:50% 0;">0.94</div>
<div class="t" style="font-size:27.8px;top:497.34px;left:336.54px;width:400px;text-align:center;font-style:italic;transform:scaleX(0.945);transform-origin:50% 0;">0.96</div>
<div class="t" style="font-size:27.8px;top:497.34px;left:437.02px;width:400px;text-align:center;font-style:italic;transform:scaleX(0.945);transform-origin:50% 0;">0.98</div>
<div class="t" style="font-size:27.8px;top:497.34px;left:537.50px;width:400px;text-align:center;font-style:italic;transform:scaleX(0.945);transform-origin:50% 0;">1.00</div>
<div class="t" style="font-size:27.8px;top:121.54px;left:-363.50px;width:400px;text-align:right;font-style:italic;transform:scaleX(0.9);transform-origin:100% 0;">2.5</div>
<div class="t" style="font-size:27.8px;top:239.74px;left:-363.50px;width:400px;text-align:right;font-style:italic;transform:scaleX(0.9);transform-origin:100% 0;">2.0</div>
<div class="t" style="font-size:27.8px;top:357.94px;left:-363.50px;width:400px;text-align:right;font-style:italic;transform:scaleX(0.9);transform-origin:100% 0;">1.5</div>
<div class="t" style="font-size:41px;top:9.49px;left:36.50px;font-style:italic;">r</div>
<div class="t" style="font-size:41px;top:470.89px;left:769.50px;font-style:italic;">a</div>
<div class="t" style="font-size:29.2px;top:121.67px;left:919.50px;transform:scaleX(0.978);transform-origin:0 0;">ISCO</div>
<div class="t" style="font-size:29.2px;top:172.37px;left:919.50px;transform:scaleX(0.978);transform-origin:0 0;">ergosphere</div>
<div class="t" style="font-size:29.2px;top:223.07px;left:919.50px;transform:scaleX(0.978);transform-origin:0 0;">upper bound for negative energy</div>
<div class="t" style="font-size:29.2px;top:273.77px;left:919.50px;transform:scaleX(0.978);transform-origin:0 0;">escape condition</div>
<div class="t" style="font-size:29.2px;top:324.47px;left:919.50px;transform:scaleX(0.978);transform-origin:0 0;">lower bound for negative energy</div>
<div class="t" style="font-size:29.2px;top:375.17px;left:919.50px;transform:scaleX(0.978);transform-origin:0 0;">horizon</div>
</body></html>
